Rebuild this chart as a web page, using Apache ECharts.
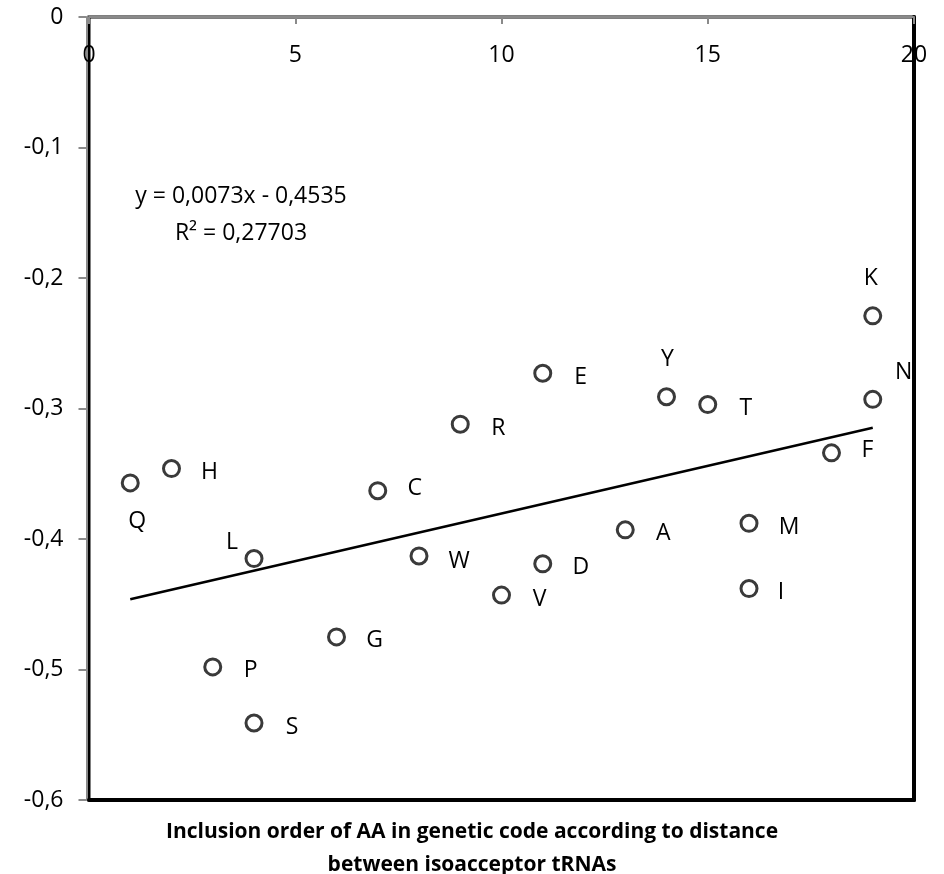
<!DOCTYPE html>
<html>
<head>
<meta charset="utf-8">
<script src="https://cdn.jsdelivr.net/npm/echarts@6/dist/echarts.min.js"></script>
<style>
  html, body { margin: 0; padding: 0; background: #fff; }
  #chart { width: 944px; height: 874px; }
</style>
</head>
<body>
<div id="chart"></div>
<script>
// Amino acids, their inclusion order and the measured value
const aminoAcids = ['Q', 'H', 'P', 'L', 'S', 'G', 'C', 'W', 'R', 'V', 'E', 'D', 'A', 'Y', 'T', 'M', 'I', 'F', 'K', 'N'];
const inclusionOrder = [1, 2, 3, 4, 4, 6, 7, 8, 9, 10, 11, 11, 13, 14, 15, 16, 16, 18, 19, 19];
const values = [-0.357, -0.346, -0.498, -0.415, -0.541, -0.475, -0.363, -0.413, -0.312, -0.443,
                -0.273, -0.419, -0.393, -0.291, -0.297, -0.388, -0.438, -0.334, -0.229, -0.293];

// Linear fit reported on the chart
const slope = 0.0073;
const intercept = -0.4535;
const rSquared = '0,27703';
const fitRange = [1, 19];

// Axis ticks
const xTicks = [0, 5, 10, 15, 20];
const yTicks = [0, -0.1, -0.2, -0.3, -0.4, -0.5, -0.6];

const axisTitle = 'Inclusion order of AA in genetic code according to distance\nbetween isoacceptor tRNAs';

// Label placement around each marker (pixels from the marker centre)
const labelOffset = {
  Q: [7, 39], L: [-22, -16], K: [-2, -37], Y: [1, -37], N: [31, -27],
  C: [37, -2], F: [36, -2], I: [32, 4], W: [40, 5], M: [40, 4]
};
const defaultOffset = [38, 4];

const comma = v => String(Number(v.toFixed(4))).replace('.', ',');
const FONT = 'Open Sans';
const FS = 23;

const points = aminoAcids.map((aa, i) => ({
  value: [inclusionOrder[i], values[i]],
  name: aa,
  label: { offset: labelOffset[aa] || defaultOffset }
}));

const fitLine = fitRange.map(x => [x, slope * x + intercept]);

const chart = echarts.init(document.getElementById('chart'), null, { renderer: 'canvas' });

chart.setOption({
  animation: false,
  backgroundColor: '#ffffff',
  grid: {
    left: 89, top: 17, right: 30, bottom: 74,
    show: true, borderColor: '#000', borderWidth: 3, backgroundColor: 'transparent'
  },
  xAxis: [{
    type: 'value', position: 'top', min: xTicks[0], max: xTicks[xTicks.length - 1], interval: 5,
    offset: 2.5,
    axisLine: { show: true, lineStyle: { color: '#8a8a8a', width: 2 } },
    axisTick: { show: true, inside: true, length: 7, lineStyle: { color: '#8a8a8a', width: 2 } },
    axisLabel: { inside: true, margin: 29, fontFamily: FONT, fontSize: FS, color: '#000',
                 formatter: comma },
    splitLine: { show: false }
  }, {
    type: 'value', position: 'bottom', min: 0, max: 20,
    axisLine: { show: true, onZero: false, lineStyle: { color: '#000', width: 4 } },
    axisTick: { show: false }, axisLabel: { show: false }, splitLine: { show: false }
  }],
  yAxis: [{
    type: 'value', position: 'left', min: yTicks[yTicks.length - 1], max: yTicks[0], interval: 0.1,
    offset: 2.5,
    axisLine: { show: true, onZero: false, lineStyle: { color: '#8a8a8a', width: 2 } },
    axisTick: { show: true, inside: false, length: 8, lineStyle: { color: '#8a8a8a', width: 2 } },
    axisLabel: { margin: 23, fontFamily: FONT, fontSize: FS, color: '#000', formatter: comma },
    splitLine: { show: false }
  }, {
    type: 'value', position: 'right', min: -0.6, max: 0,
    axisLine: { show: true, onZero: false, lineStyle: { color: '#000', width: 4 } },
    axisTick: { show: false }, axisLabel: { show: false }, splitLine: { show: false }
  }],
  graphic: [{
    type: 'text', x: 241, y: 178,
    style: {
      text: 'y = ' + comma(slope) + 'x - ' + comma(-intercept) + '\nR² = ' + rSquared,
      fontFamily: FONT, fontSize: FS, lineHeight: 37, fill: '#000', align: 'center', verticalAlign: 'top'
    }
  }, {
    type: 'text', x: 472, y: 816,
    style: {
      text: axisTitle,
      fontFamily: FONT, fontWeight: 'bold', fontSize: 21, lineHeight: 33, fill: '#000',
      align: 'center', verticalAlign: 'top'
    }
  }],
  series: [{
    type: 'line', data: fitLine, xAxisIndex: 0, yAxisIndex: 0,
    symbol: 'none', lineStyle: { color: '#000', width: 2.5 }, z: 2, silent: true
  }, {
    type: 'scatter', data: points, xAxisIndex: 0, yAxisIndex: 0,
    symbol: 'circle', symbolSize: 16,
    itemStyle: { color: '#fff', borderColor: '#3a3a3a', borderWidth: 3, opacity: 1 },
    label: {
      show: true, position: 'inside', formatter: p => p.name,
      fontFamily: FONT, fontSize: FS, color: '#000'
    },
    z: 3
  }]
});
</script>
</body>
</html>
